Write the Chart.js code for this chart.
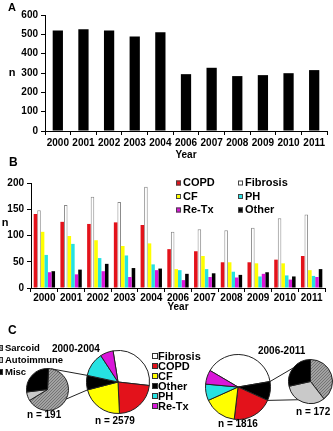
<!DOCTYPE html>
<html>
<head>
<meta charset="utf-8">
<script src="https://cdn.jsdelivr.net/npm/chart.js@4.4.1/dist/chart.umd.min.js"></script>
<style>
  body { margin: 0; width: 333px; height: 431px; background: #fff; position: relative; overflow: hidden;
         font-family: "Liberation Sans", Arial, sans-serif; font-weight: bold; color: #000; }
  canvas, .t, .box { position: absolute; }
  .t { white-space: nowrap; line-height: 1; transform: translateY(-50%); }
  .box { width: 4px; height: 4px; border: 1px solid #333; transform: translateY(-50%); }
</style>
</head>
<body>
<canvas id="chartA" width="333" height="161" style="left:0;top:0"></canvas>
<canvas id="chartB" width="333" height="153" style="left:0;top:160px"></canvas>
<canvas id="links" width="333" height="431" style="left:0;top:0"></canvas>
<canvas id="small1" width="43" height="43" style="left:26px;top:368px"></canvas>
<canvas id="pie1" width="64" height="64" style="left:86px;top:350px"></canvas>
<canvas id="pie2" width="66" height="66" style="left:205px;top:354px"></canvas>
<canvas id="small2" width="45" height="45" style="left:288px;top:359px"></canvas>
<div id="texts"></div>

<script>
// ---- data ----
const years = ["2000", "2001", "2002", "2003", "2004", "2006", "2007", "2008", "2009", "2010", "2011"];
const totalTx = [520, 526, 520, 489, 511, 294, 327, 284, 289, 299, 315];

const copd = [141, 126, 122, 125, 120, 74, 70, 49, 49, 54, 61];
const fibrosis = [148, 158, 174, 164, 193, 107, 112, 110, 115, 133, 140];
const cf = [107, 99, 91, 80, 85, 36, 61, 49, 47, 47, 34];
const ph = [63, 84, 57, 62, 45, 34, 36, 31, 22, 24, 23];
const reTx = [30, 26, 32, 21, 34, 15, 21, 20, 27, 16, 21];
const other = [32, 35, 46, 38, 37, 27, 28, 25, 30, 22, 36];

const pie1Labels = ["Fibrosis", "COPD", "CF", "Other", "PH", "Re-Tx"];
const pie1Values = [755, 580, 560, 191, 320, 173];
const pie2Labels = ["Fibrosis", "Other", "COPD", "CF", "PH", "Re-Tx"];
const pie2Values = [705, 172, 365, 298, 148, 128];

const otherLabels = ["Sarcoid", "Autoimmune", "Misc"];
const other1Values = [125, 13, 53];
const other2Values = [68, 55, 49];

// ---- styles ----
const colors = {
  "COPD": "#e3121b", "Fibrosis": "#ffffff", "CF": "#ffff00",
  "PH": "#26e2e2", "Re-Tx": "#d916d9", "Other": "#000000"
};
const FONT = '"Liberation Sans", Arial, sans-serif';
Chart.defaults.font.family = FONT;
Chart.defaults.font.weight = "bold";
Chart.defaults.font.size = 10;
Chart.defaults.color = "#000";

// fine hatched grey for sarcoid
const hatchCanvas = document.createElement("canvas");
hatchCanvas.width = 3; hatchCanvas.height = 3;
const hc = hatchCanvas.getContext("2d");
hc.fillStyle = "#a2a2a2"; hc.fillRect(0, 0, 3, 3);
hc.fillStyle = "#747474";
hc.fillRect(2, 0, 1, 1); hc.fillRect(1, 1, 1, 1); hc.fillRect(0, 2, 1, 1);
const hatch = hc.createPattern(hatchCanvas, "repeat");
const otherColors = [hatch, "#c9c9c9", "#000000"];
const otherCss = ["repeating-linear-gradient(45deg,#747474 0 1px,#a2a2a2 1px 3px)", "#c9c9c9", "#000"];

// ---- plugins ----
const axisLetter = {
  id: "axisLetter",
  afterDraw(chart, args, opts) {
    const ctx = chart.ctx;
    ctx.save();
    ctx.font = "bold 11px " + FONT;
    ctx.fillStyle = "#000";
    ctx.textAlign = "center";
    ctx.textBaseline = "middle";
    ctx.fillText(opts.text, opts.x, opts.y);
    ctx.restore();
  }
};

// two-column legend drawn inside the plot
const gridLegend = {
  id: "gridLegend",
  afterDraw(chart, args, opts) {
    if (!opts.show) return;
    const ctx = chart.ctx;
    ctx.save();
    ctx.font = "bold 11px " + FONT;
    ctx.textBaseline = "middle";
    chart.data.datasets.forEach((ds, i) => {
      const x = opts.x + (i % 2) * opts.colGap;
      const y = opts.y + Math.floor(i / 2) * opts.rowGap;
      ctx.fillStyle = ds.backgroundColor;
      ctx.fillRect(x, y - 2.5, 5, 5);
      ctx.strokeStyle = "#444";
      ctx.lineWidth = 1;
      ctx.strokeRect(x + 0.5, y - 2, 4, 4);
      ctx.fillStyle = "#000";
      ctx.fillText(ds.label, x + 7, y);
    });
    ctx.restore();
  }
};

function blackAxes(yMax, yStep, yWidth, tickPad, titlePadTop) {
  return {
    x: {
      grid: { offset: true, drawOnChartArea: false, tickLength: 4, color: "#000" },
      border: { color: "#000" },
      ticks: { padding: tickPad, maxRotation: 0, autoSkip: false },
      title: { display: true, text: "Year", padding: { top: titlePadTop, bottom: 0 } }
    },
    y: {
      min: 0, max: yMax,
      grid: { drawOnChartArea: false, tickLength: 4, color: "#000" },
      border: { color: "#000" },
      ticks: { stepSize: yStep, padding: 3 },
      afterFit: s => { s.width = yWidth; }
    }
  };
}

// ---- A ----
new Chart(document.getElementById("chartA"), {
  type: "bar",
  data: {
    labels: years,
    datasets: [{ label: "n", data: totalTx, backgroundColor: "#000",
                 categoryPercentage: 1, barPercentage: 0.4 }]
  },
  options: {
    responsive: false, animation: false,
    layout: { padding: { top: 15, right: 6, left: 0, bottom: 0 } },
    scales: blackAxes(600, 100, 45, 2, -2),
    plugins: {
      legend: { display: false }, tooltip: { enabled: false },
      axisLetter: { text: "n", x: 12, y: 73 },
      gridLegend: { show: false }
    }
  },
  plugins: [axisLetter, gridLegend]
});

// ---- B ----
const seriesB = [
  ["COPD", copd], ["Fibrosis", fibrosis], ["CF", cf],
  ["PH", ph], ["Re-Tx", reTx], ["Other", other]
];
new Chart(document.getElementById("chartB"), {
  type: "bar",
  data: {
    labels: years,
    datasets: seriesB.map(([name, vals]) => ({
      label: name, data: vals,
      backgroundColor: colors[name],
      borderColor: name === "Fibrosis" ? "#8a8a8a" : colors[name],
      borderWidth: name === "Fibrosis" ? 1 : 0,
      categoryPercentage: 0.8, barPercentage: 1
    }))
  },
  options: {
    responsive: false, animation: false,
    layout: { padding: { top: 23, right: 8, left: 0, bottom: 0 } },
    scales: blackAxes(200, 50, 31, 0, -3),
    plugins: {
      legend: { display: false }, tooltip: { enabled: false },
      axisLetter: { text: "n", x: 5, y: 63 },
      gridLegend: { show: true, x: 176, y: 23, colGap: 62, rowGap: 13.5 }
    }
  },
  plugins: [axisLetter, gridLegend]
});

// ---- C ----
function pie(id, labels, values, bg, rotation) {
  return new Chart(document.getElementById(id), {
    type: "pie",
    data: { labels: labels, datasets: [{ data: values, backgroundColor: bg,
            borderColor: "#222", borderWidth: 1, hoverOffset: 0 }] },
    options: {
      responsive: false, animation: false, rotation: rotation,
      layout: { padding: 0 },
      plugins: { legend: { display: false }, tooltip: { enabled: false } }
    }
  });
}
const pie1 = pie("pie1", pie1Labels, pie1Values, pie1Labels.map(l => colors[l]), -9);
const pie2 = pie("pie2", pie2Labels, pie2Values, pie2Labels.map(l => colors[l]), -59.5);
const small1 = pie("small1", otherLabels, other1Values, otherColors, 3);
const small2 = pie("small2", otherLabels, other2Values, otherColors, 0);

// connector lines from the "Other" slice to its breakdown pie
const lctx = document.getElementById("links").getContext("2d");
function edge(chart, arc, ang) {
  const c = chart.canvas;
  return [c.offsetLeft + arc.x + arc.outerRadius * Math.cos(ang),
          c.offsetTop + arc.y + arc.outerRadius * Math.sin(ang)];
}
function fromTop(deg) { return (deg - 90) * Math.PI / 180; }
function connect(main, labels, small, pairs) {
  const arc = main.getDatasetMeta(0).data[labels.indexOf("Other")];
  const s = small.getDatasetMeta(0).data[0];
  lctx.strokeStyle = "#222";
  lctx.lineWidth = 1;
  pairs.forEach(([side, deg]) => {
    const a = edge(main, arc, side === "start" ? arc.startAngle : arc.endAngle);
    const b = edge(small, s, fromTop(deg));
    lctx.beginPath(); lctx.moveTo(a[0], a[1]); lctx.lineTo(b[0], b[1]); lctx.stroke();
  });
}
connect(pie1, pie1Labels, small1, [["end", 10], ["start", 117]]);
connect(pie2, pie2Labels, small2, [["start", 308], ["end", 214]]);

// ---- text ----
const texts = document.getElementById("texts");
function addText(str, left, y, size) {
  const d = document.createElement("div");
  d.className = "t";
  d.textContent = str;
  d.style.left = left + "px"; d.style.top = y + "px"; d.style.fontSize = size + "px";
  texts.appendChild(d);
}
function addBox(bg, left, y) {
  const b = document.createElement("div");
  b.className = "box";
  b.style.background = bg;
  b.style.left = left + "px"; b.style.top = y + "px";
  texts.appendChild(b);
}
const sum = a => a.reduce((t, v) => t + v, 0);

addText("A", 8, 7, 11);
addText("B", 9, 162, 12);
addText("C", 8, 330, 12);
addText("2000-2004", 52, 349, 10);
addText("2006-2011", 258, 351, 10);
addText("n = " + sum(other1Values), 27, 415, 10);
addText("n = " + sum(pie1Values), 95, 421, 10);
addText("n = " + sum(pie2Values), 218, 424, 10);
addText("n = " + sum(other2Values), 296, 412, 10);

pie1Labels.forEach((l, i) => {
  const y = 356 + i * 9.9;
  addBox(colors[l], 152, y);
  addText(l, 158, y, 11);
});
otherLabels.forEach((l, i) => {
  const y = 348 + i * 12;
  addBox(otherCss[i], -3, y);
  addText(l, 5, y, 9.5);
});
</script>
</body>
</html>
